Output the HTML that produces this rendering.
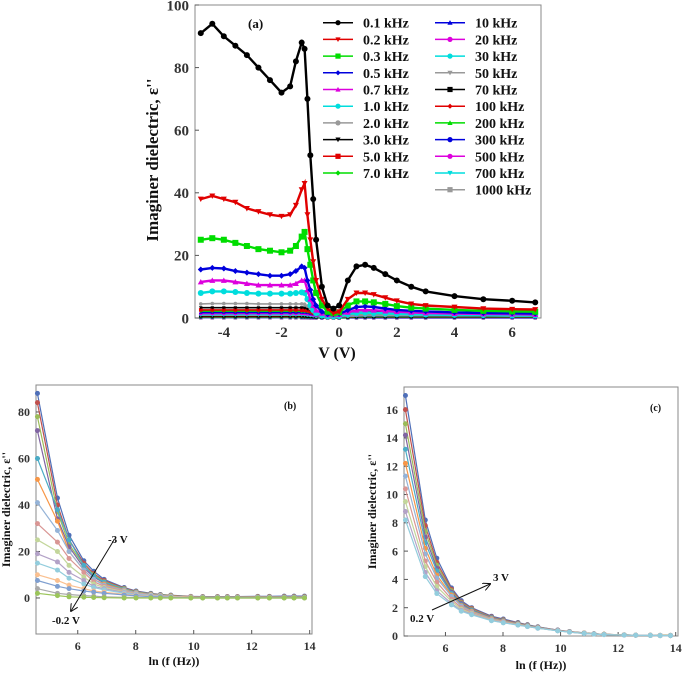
<!DOCTYPE html>
<html><head><meta charset="utf-8"><style>
html,body{margin:0;padding:0;background:#fff;}
svg{display:block;font-family:"Liberation Serif",serif;font-weight:bold;}
</style></head><body>
<svg id="fig" width="685" height="674" viewBox="0 0 685 674" xmlns="http://www.w3.org/2000/svg">
<g id="pa"></g>
<g id="pb"></g>
<g id="pc"></g>
</svg>
<script>
// ---------- Panel (a) data ----------
const aV = [-4.8,-4.4,-4,-3.6,-3.2,-2.8,-2.4,-2.0,-1.7,-1.5,-1.3,-1.2,-1.1,-1.0,-0.9,-0.8,-0.6,-0.4,-0.2,0,0.3,0.6,0.9,1.2,1.6,2,2.5,3,4,5,6,6.8];
const aLabels = ["0.1 kHz","0.2 kHz","0.3 kHz","0.5 kHz","0.7 kHz","1.0 kHz","2.0 kHz","3.0 kHz","5.0 kHz","7.0 kHz","10  kHz","20  kHz","30  kHz","50  kHz","70  kHz","100 kHz","200 kHz","300 kHz","500 kHz","700 kHz","1000 kHz"];
const aColors = ["#000","#e00000","#00dd00","#0000dd","#dd00dd","#00dddd","#999","#000","#e00000","#00dd00","#0000dd","#dd00dd","#00dddd","#999","#000","#e00000","#00dd00","#0000dd","#dd00dd","#00dddd","#999"];
const aMarkers = ["c","v","s","d","t","c","c","v","s","d","t","c","c","v","s","d","t","c","c","v","s"];
const a01 = [91,94,90,87,84,80,76,72,74,82,88,86,70,52,38,25,10,4,3,4,12,16.5,17,16,14,12,10,8.5,7,6,5.5,5];
const a02 = [38,39,38,37,35,34,33,32.5,33,36,41,43,33,25,18,12,6,3,1.5,2,6,8,8,7.5,6.5,5.5,4.5,4,3.5,3,2.8,2.7];
const a03 = [25,25.5,25,24,23,22,21.5,21,21.5,23,26,27.5,22,17,12,8,4,2,1.5,1.8,4,5.3,5.3,5,4.5,3.8,3.3,3,2.6,2.3,2.1,2];
const a05 = [15.5,16,15.8,15,14.5,14,13.5,13.5,14,15,16.5,16,12,9,6,4,2,1.2,1.2,1.3,2.5,3.5,3.7,3.5,3,2.6,2.3,2.1,1.8,1.6,1.5,1.4];
const a07 = [11.5,12,12,11.5,11,10.5,10.5,10.5,10.5,11,12,12,9,6,4,2.5,1.5,1,1,1.1,1.8,2.5,2.6,2.5,2.2,2,1.8,1.6,1.4,1.3,1.2,1.1];
const a1 = [8,8.5,8.5,8.3,8,7.8,7.8,7.8,7.8,8,8.2,8,6,4,2.5,1.5,0.8,0.5,0.5,0.6,1.2,1.6,1.7,1.6,1.5,1.3,1.2,1.1,1,0.9,0.8,0.8];
const a2 = [4.5,4.6,4.6,4.6,4.6,4.5,4.5,4.5,4.5,4.5,4.5,4.4,3.8,3,2,1.3,0.6,0.3,0.3,0.4,0.8,1,1,1,0.9,0.9,0.8,0.8,0.7,0.7,0.6,0.6];
const a3 = [3.3,3.3,3.3,3.3,3.3,3.3,3.3,3.3,3.3,3.3,3.3,3.2,2.9,2.5,2,1.5,0.8,0.5,0.4,0.5,1.5,1.8,1.9,1.9,1.8,1.8,1.7,1.7,1.6,1.6,1.6,1.6];
const a5 = [2.6,2.6,2.6,2.6,2.6,2.6,2.6,2.6,2.6,2.6,2.5,2.5,2.3,2,1.6,1.2,0.7,0.4,0.4,0.5,1.2,1.5,1.6,1.6,1.6,1.6,1.5,1.5,1.5,1.5,1.5,1.5];
const a7 = [2.2,2.2,2.2,2.2,2.2,2.2,2.2,2.2,2.2,2.2,2.1,2.1,2,1.8,1.5,1.1,0.7,0.4,0.4,0.5,1,1.3,1.4,1.4,1.4,1.4,1.4,1.3,1.3,1.3,1.3,1.3];
const a10 = [1.8,1.8,1.8,1.8,1.8,1.8,1.8,1.8,1.8,1.8,1.8,1.8,1.7,1.5,1.3,1,0.6,0.4,0.4,0.4,0.9,1.1,1.2,1.2,1.2,1.2,1.2,1.2,1.2,1.2,1.2,1.2];
const a20 = [1.4,1.4,1.4,1.4,1.4,1.4,1.4,1.4,1.4,1.4,1.4,1.4,1.3,1.2,1,0.8,0.5,0.3,0.3,0.4,0.7,0.9,1,1,1,1,1,1,1,1,1,1];
const a30 = [1.1,1.1,1.1,1.1,1.1,1.1,1.1,1.1,1.1,1.1,1.1,1.1,1,0.9,0.8,0.6,0.4,0.3,0.3,0.3,0.6,0.8,0.8,0.8,0.8,0.8,0.8,0.8,0.8,0.8,0.8,0.8];
const a50 = [0.9,0.9,0.9,0.9,0.9,0.9,0.9,0.9,0.9,0.9,0.9,0.9,0.8,0.7,0.6,0.5,0.3,0.2,0.2,0.3,0.5,0.6,0.7,0.7,0.7,0.7,0.7,0.7,0.7,0.7,0.7,0.7];
const a70 = [0.7,0.7,0.7,0.7,0.7,0.7,0.7,0.7,0.7,0.7,0.7,0.7,0.6,0.6,0.5,0.4,0.3,0.2,0.2,0.2,0.4,0.5,0.5,0.5,0.5,0.5,0.5,0.5,0.5,0.5,0.5,0.5];
const a100 = [0.5,0.5,0.5,0.5,0.5,0.5,0.5,0.5,0.5,0.5,0.5,0.5,0.5,0.4,0.4,0.3,0.2,0.2,0.2,0.2,0.3,0.4,0.4,0.4,0.4,0.4,0.4,0.4,0.4,0.4,0.4,0.4];
const a200 = [0.35,0.35,0.35,0.35,0.35,0.35,0.35,0.35,0.35,0.35,0.35,0.35,0.3,0.3,0.3,0.2,0.2,0.1,0.1,0.1,0.2,0.3,0.3,0.3,0.3,0.3,0.3,0.3,0.3,0.3,0.3,0.3];
const a300 = [0.25,0.25,0.25,0.25,0.25,0.25,0.25,0.25,0.25,0.25,0.25,0.25,0.2,0.2,0.2,0.15,0.1,0.1,0.1,0.1,0.15,0.2,0.2,0.2,0.2,0.2,0.2,0.2,0.2,0.2,0.2,0.2];
const a500 = [0.15,0.15,0.15,0.15,0.15,0.15,0.15,0.15,0.15,0.15,0.15,0.15,0.15,0.1,0.1,0.1,0.05,0.05,0.05,0.05,0.1,0.1,0.1,0.1,0.1,0.1,0.1,0.1,0.1,0.1,0.1,0.1];
const a700 = [0.1,0.1,0.1,0.1,0.1,0.1,0.1,0.1,0.1,0.1,0.1,0.1,0.1,0.05,0.05,0.05,0,0,0,0,0.05,0.05,0.05,0.05,0.05,0.05,0.05,0.05,0.05,0.05,0.05,0.05];
const a1000 = [0.05,0.05,0.05,0.05,0.05,0.05,0.05,0.05,0.05,0.05,0.05,0.05,0.05,0,0,0,0,0,0,0,0,0,0,0,0,0,0,0,0,0,0,0];
const aSeries = [a01,a02,a03,a05,a07,a1,a2,a3,a5,a7,a10,a20,a30,a50,a70,a100,a200,a300,a500,a700,a1000];
const aXTicks = [-4,-2,0,2,4,6];
const aYTicks = [0,20,40,60,80,100];

// ---------- Panel (b)/(c) data ----------
const lnF = [4.61,5.30,5.70,6.21,6.55,6.91,7.60,8.01,8.52,8.85,9.21,9.90,10.31,10.82,11.16,11.51,12.21,12.61,13.12,13.46,13.82];
const bS1 = [88,43,27,16,11.5,8,4.5,3,2,1.5,1.2,0.7,0.6,0.6,0.6,0.6,0.7,0.7,0.8,0.8,0.8];
const bS2 = [84,40,25,15,10.5,7.5,4.2,2.8,1.8,1.4,1.1,0.6,0.5,0.5,0.5,0.5,0.6,0.6,0.6,0.6,0.6];
const bS3 = [78,37,23,14,10,7,4,2.6,1.7,1.3,1,0.5,0.4,0.4,0.4,0.4,0.5,0.5,0.5,0.5,0.5];
const bS4 = [72,34,22,13,9,6.5,3.6,2.4,1.5,1.1,0.8,0.4,0.3,0.3,0.3,0.3,0.4,0.4,0.4,0.4,0.4];
const bS5 = [60,38,25,14,9.5,6.8,3.8,2.5,1.6,1.2,0.9,0.4,0.3,0.3,0.3,0.3,0.3,0.3,0.3,0.3,0.3];
const bS6 = [51,33,20,12,8,6,3.5,2.3,1.5,1.1,0.8,0.4,0.3,0.3,0.3,0.3,0.3,0.3,0.3,0.3,0.3];
const bS7 = [41,29,20,12,8,5.5,3.3,2.2,1.4,1,0.7,0.3,0.2,0.2,0.2,0.2,0.2,0.2,0.2,0.2,0.2];
const bS8 = [32,24,17,11,7,5,3,2,1.3,1,0.7,0.3,0.2,0.2,0.2,0.2,0.2,0.2,0.2,0.2,0.2];
const bS9 = [25,20,14,9,6,4.5,2.7,1.8,1.2,0.9,0.6,0.3,0.2,0.2,0.2,0.2,0.2,0.2,0.2,0.2,0.2];
const bS10 = [19,15.5,11,7.5,5,4,2.4,1.6,1.1,0.8,0.6,0.3,0.2,0.2,0.2,0.2,0.2,0.2,0.2,0.2,0.2];
const bS11 = [15,12,8.5,6,4.5,3.5,2.1,1.4,1,0.7,0.5,0.2,0.2,0.2,0.2,0.2,0.2,0.2,0.2,0.2,0.2];
const bS12 = [10,7.5,5.5,4,3,2.5,1.6,1.1,0.8,0.6,0.4,0.2,0.1,0.1,0.1,0.1,0.1,0.1,0.1,0.1,0.1];
const bS13 = [7.5,5,4,3,2.5,2,1.3,0.9,0.6,0.5,0.3,0.1,0.1,0.1,0.1,0.1,0.1,0.1,0.1,0.1,0.1];
const bS14 = [4,2,1.5,1,0.8,0.5,0.3,0.2,0.1,0.1,0.1,0,0,0,0,0,0,0,0,0,0];
const bS15 = [2,1,0.5,0.3,0.2,0.1,0,0,0,0,0,0,0,0,0,0,0,0,0,0,0];
const bSeries = [bS1,bS2,bS3,bS4,bS5,bS6,bS7,bS8,bS9,bS10,bS11,bS12,bS13,bS14,bS15];
const bXTicks = [6,8,10,12,14];
const bYTicks = [0,20,40,60,80];

const cS1 = [17,8.2,5.5,3.4,2.5,2,1.4,1.2,0.95,0.8,0.65,0.42,0.32,0.22,0.16,0.12,0.08,0.06,0.05,0.04,0.04];
const cS2 = [16,7.8,5.2,3.3,2.4,1.95,1.35,1.15,0.92,0.78,0.63,0.41,0.31,0.21,0.16,0.12,0.08,0.06,0.05,0.04,0.04];
const cS3 = [15,7.4,5,3.2,2.35,1.9,1.32,1.12,0.9,0.76,0.62,0.4,0.3,0.21,0.15,0.12,0.08,0.06,0.05,0.04,0.04];
const cS4 = [14.2,7,4.8,3.1,2.3,1.85,1.3,1.1,0.88,0.75,0.61,0.4,0.3,0.2,0.15,0.11,0.07,0.05,0.04,0.03,0.03];
const cS5 = [13.2,6.6,4.6,3,2.2,1.8,1.27,1.08,0.87,0.74,0.6,0.39,0.29,0.2,0.15,0.11,0.07,0.05,0.04,0.03,0.03];
const cS6 = [12.2,6.2,4.3,2.9,2.15,1.75,1.24,1.05,0.85,0.72,0.59,0.39,0.29,0.2,0.14,0.11,0.07,0.05,0.04,0.03,0.03];
const cS7 = [11.3,5.8,4.1,2.8,2.1,1.7,1.2,1.02,0.83,0.7,0.58,0.38,0.28,0.19,0.14,0.1,0.07,0.05,0.04,0.03,0.03];
const cS8 = [10.4,5.3,3.8,2.6,2,1.65,1.17,1,0.81,0.69,0.57,0.38,0.28,0.19,0.14,0.1,0.07,0.05,0.04,0.03,0.03];
const cS9 = [9.5,4.9,3.5,2.45,1.9,1.6,1.13,0.97,0.8,0.68,0.56,0.37,0.28,0.19,0.14,0.1,0.07,0.05,0.04,0.03,0.03];
const cS10 = [8.8,4.5,3.2,2.3,1.8,1.55,1.1,0.95,0.78,0.67,0.55,0.37,0.27,0.18,0.13,0.1,0.06,0.05,0.04,0.03,0.03];
const cS11 = [8.2,4.2,3,2.2,1.75,1.5,1.08,0.93,0.77,0.66,0.55,0.36,0.27,0.18,0.13,0.1,0.06,0.05,0.04,0.03,0.03];
const cSeries = [cS1,cS2,cS3,cS4,cS5,cS6,cS7,cS8,cS9,cS10,cS11];
const cXTicks = [6,8,10,12,14];
const cYTicks = [0,2,4,6,8,10,12,14,16];

const pal = ["#4f6fb8","#c0504d","#9bbb59","#8064a2","#4bacc6","#f79646","#95b3d7","#d99694","#c3d69b","#b3a2c7","#93cddd","#fac090","#7f9fd0","#a9a9a9","#9bc55a"];

const NS = "http://www.w3.org/2000/svg";
function mk(parent, tag, attrs, text){
  const e = document.createElementNS(NS, tag);
  for (const k in attrs) e.setAttribute(k, attrs[k]);
  if (text !== undefined) e.textContent = text;
  parent.appendChild(e);
  return e;
}
function marker(g, type, x, y, r, col){
  let e;
  if (type === "c") e = mk(g,"circle",{cx:x,cy:y,r:r,fill:col});
  else if (type === "s") e = mk(g,"rect",{x:x-r,y:y-r,width:2*r,height:2*r,fill:col});
  else if (type === "v") e = mk(g,"path",{d:`M${x-r},${y-r*0.8}L${x+r},${y-r*0.8}L${x},${y+r}Z`,fill:col});
  else if (type === "t") e = mk(g,"path",{d:`M${x-r},${y+r*0.8}L${x+r},${y+r*0.8}L${x},${y-r}Z`,fill:col});
  else e = mk(g,"path",{d:`M${x},${y-r}L${x+r},${y}L${x},${y+r}L${x-r},${y}Z`,fill:col});
  return e;
}

function axes(g, L, R, T, B, sx, sy, xt, yt, fs){
  const frame = mk(g,"rect",{x:L,y:T,width:R-L,height:B-T,fill:"none",stroke:"#888","stroke-width":1});
  
  
  xt.forEach(v=>{
    const x = sx(v);
    mk(g,"line",{x1:x,y1:B,x2:x,y2:B-4,stroke:"#555"});
    const t = mk(g,"text",{x:x,y:B+fs+4,"text-anchor":"middle","font-size":fs,fill:"#333"},String(v));
    
    
  });
  yt.forEach(v=>{
    const y = sy(v);
    mk(g,"line",{x1:L,y1:y,x2:L+4,y2:y,stroke:"#555"});
    const t = mk(g,"text",{x:L-6,y:y+fs*0.35,"text-anchor":"end","font-size":fs,fill:"#333"},String(v));
    
    
  });
}

// ---- Panel a ----
(function(){
  const g = document.getElementById("pa");
  const L=195,R=541,T=5,B=318;
  const sx = v => L + (v+5)/12*(R-L);
  const sy = v => B - v/100*(B-T);
  axes(g,L,R,T,B,sx,sy,aXTicks,aYTicks,15);
  for (let i=aSeries.length-1;i>=0;i--){
    const s = aSeries[i];
    const sg = mk(g,"g",{});
    
    
    const d = s.map((v,j)=>(j?"L":"M")+sx(aV[j]).toFixed(1)+","+sy(v).toFixed(1)).join("");
    mk(sg,"path",{d:d,fill:"none",stroke:aColors[i],"stroke-width":i<6?2.4:1.6});
    s.forEach((v,j)=>{
      const m = marker(sg,aMarkers[i],sx(aV[j]),sy(v),i<6?3:1.8,aColors[i]);
      
      
    });
  }
  // legend
  aLabels.forEach((lab,i)=>{
    const col = i<10?0:1;
    const row = col?i-10:i;
    const lx = col?435:323, tx = col?475:363, y = 22.7+row*16.7;
    const lg = mk(g,"g",{});
    
    
    mk(lg,"line",{x1:lx,y1:y,x2:lx+30,y2:y,stroke:aColors[i],"stroke-width":1.5});
    marker(lg,aMarkers[i],lx+15,y,2.6,aColors[i]);
    mk(lg,"text",{x:tx,y:y+5,"font-size":14,fill:"#111"},lab);
  });
  const p = mk(g,"text",{x:248,y:28,"font-size":13,fill:"#111"},"(a)");
   
  const xl = mk(g,"text",{x:337,y:358,"text-anchor":"middle","font-size":16,fill:"#111"},"V (V)");
   
  const yl = mk(g,"text",{x:0,y:0,"text-anchor":"middle","font-size":17,fill:"#111",transform:"translate(158,160) rotate(-90)"},"Imaginer dielectric, ε''");
   
})();

function freqPanel(id, series, L,R,T,B, ymin,ymax, xt,yt, lab, labX, labY, ylabX, xlabY){
  const g = document.getElementById(id);
  const sx = v => L + (v-4.56)/(14.08-4.56)*(R-L);
  const sy = v => B - (v-ymin)/(ymax-ymin)*(B-T);
  axes(g,L,R,T,B,sx,sy,xt,yt,12);
  series.forEach((s,i)=>{
    const col = pal[i%pal.length];
    const sg = mk(g,"g",{});
    
    
    const d = s.map((v,j)=>(j?"L":"M")+sx(lnF[j]).toFixed(1)+","+sy(v).toFixed(1)).join("");
    mk(sg,"path",{d:d,fill:"none",stroke:col,"stroke-width":1.2});
    s.forEach((v,j)=>{
      const m = mk(sg,"circle",{cx:sx(lnF[j]),cy:sy(v),r:2.5,fill:col});
      
      
    });
  });
  const p = mk(g,"text",{x:labX,y:labY,"font-size":10,fill:"#111"},lab);
   
  const xl = mk(g,"text",{x:(L+R)/2,y:xlabY,"text-anchor":"middle","font-size":12,fill:"#111"},"ln (f (Hz))");
   
  const yl = mk(g,"text",{x:0,y:0,"text-anchor":"middle","font-size":12,fill:"#111",transform:`translate(${ylabX},${(T+B)/2}) rotate(-90)`},"Imaginer dielectric, ε''");
   
  return g;
}
const gb = freqPanel("pb", bSeries, 36,312,385,634, -15.5,91.6, bXTicks,bYTicks, "(b)", 284,409, 10, 665);
const gc = freqPanel("pc", cSeries, 404,678,387,636, 0,17.6, cXTicks,cYTicks, "(c)", 650,411, 376, 669);

// arrows
mk(gb,"defs",{}).innerHTML='<marker id="ah" markerWidth="8" markerHeight="8" refX="7" refY="4" orient="auto"><path d="M0,0L8,4L0,8" fill="none" stroke="#111"/></marker>';
const arB = mk(gb,"line",{x1:114,y1:540,x2:71,y2:611,stroke:"#111","stroke-width":1,"marker-end":"url(#ah)"});
 
const t1 = mk(gb,"text",{x:108,y:543,"font-size":11,fill:"#111"},"-3 V");
 
const t2 = mk(gb,"text",{x:52,y:624,"font-size":11,fill:"#111"},"-0.2 V");
 
const arC = mk(gc,"line",{x1:432,y1:610,x2:490,y2:584,stroke:"#111","stroke-width":1,"marker-end":"url(#ah)"});
 
const t3 = mk(gc,"text",{x:493,y:581,"font-size":11,fill:"#111"},"3 V");
 
const t4 = mk(gc,"text",{x:410,y:622,"font-size":11,fill:"#111"},"0.2 V");
 
</script>
</body></html>
